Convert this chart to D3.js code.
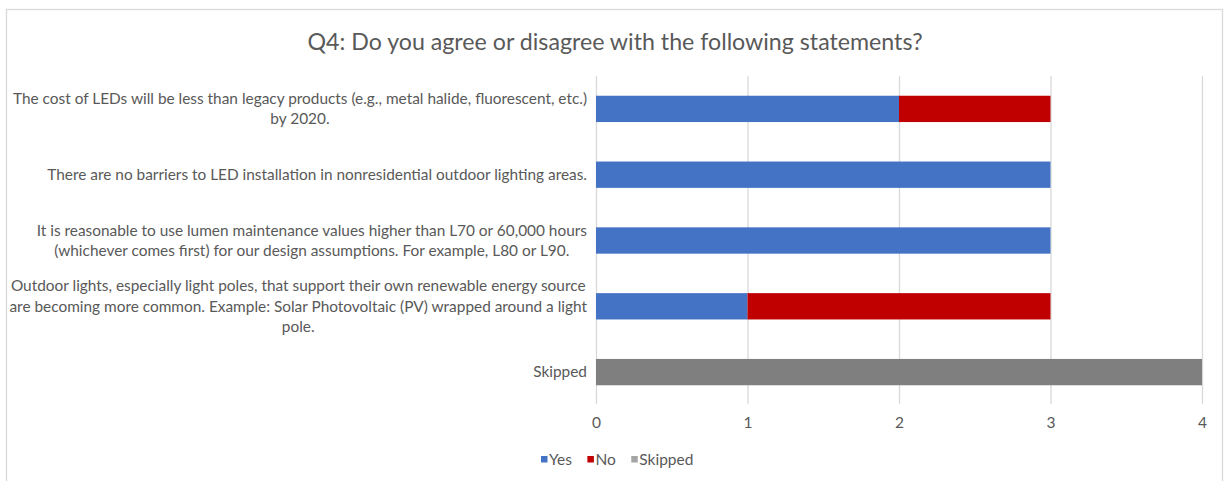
<!DOCTYPE html>
<html>
<head>
<meta charset="utf-8">
<script src="https://cdn.jsdelivr.net/npm/d3@7"></script>
<style>
  html, body { margin: 0; padding: 0; background: #fff; }
  svg { display: block; }
  text { font-family: Lato, "Open Sans", sans-serif; }
</style>
</head>
<body>
<svg id="chart" width="1224" height="481"></svg>
<script>
const title = "Q4: Do you agree or disagree with the following statements?";
const categories = [
  ["The cost of LEDs will be less than legacy products (e.g., metal halide, fluorescent, etc.)", "by 2020."],
  ["There are no barriers to LED installation in nonresidential outdoor lighting areas."],
  ["It is reasonable to use lumen maintenance values higher than L70 or 60,000 hours", "(whichever comes first) for our design assumptions. For example, L80 or L90."],
  ["Outdoor lights, especially light poles, that support their own renewable energy source", "are becoming more common. Example: Solar Photovoltaic (PV) wrapped around a light", "pole."],
  ["Skipped"]
];
const yesValues = [2, 3, 3, 1, 0];
const noValues = [1, 0, 0, 2, 0];
const skippedValues = [0, 0, 0, 0, 4];
const seriesNames = ["Yes", "No", "Skipped"];
const tickValues = [0, 1, 2, 3, 4];

const colors = { Yes: "#4472C4", No: "#C00000", Skipped: "#7F7F7F" };
const legendColors = { Yes: "#4472C4", No: "#C00000", Skipped: "#A5A5A5" };

const svg = d3.select("#chart");

// chart border
svg.append("rect").attr("x", 6.5).attr("y", 9.5).attr("width", 1216).attr("height", 480)
  .attr("fill", "#fff").attr("stroke", "#D9D9D9").attr("stroke-width", 1.3);

svg.append("text").attr("x", 615).attr("y", 50).attr("text-anchor", "middle")
  .attr("font-size", 23.2).attr("fill", "#595959").text(title);

const rows = categories.map((c, i) => ({
  idx: i, lines: c, Yes: yesValues[i], No: noValues[i], Skipped: skippedValues[i]
}));

const x = d3.scaleLinear().domain([0, 4]).range([596, 1202]);
const y = d3.scaleBand().domain(d3.range(categories.length)).range([76, 405])
  .paddingInner(0.6).paddingOuter(0.3);

// gridlines
const gx = svg.append("g").attr("transform", "translate(0,76)")
  .call(d3.axisBottom(x).tickValues(tickValues).tickSize(328).tickFormat(""));
gx.select(".domain").remove();
gx.selectAll("line").attr("stroke", "#D9D9D9").attr("stroke-width", 1.3);

// tick labels
const ax = svg.append("g").attr("transform", "translate(0,405)")
  .call(d3.axisBottom(x).tickValues(tickValues).tickSize(0).tickPadding(12).tickFormat(d3.format("d")));
ax.select(".domain").remove();
ax.selectAll("text").attr("font-size", 15.5).attr("fill", "#595959")
  .style("font-family", "Lato, sans-serif");

// stacked bars
const stack = d3.stack().keys(seriesNames)(rows);
svg.append("g").selectAll("g").data(stack).join("g")
  .attr("fill", d => colors[d.key])
  .selectAll("rect").data(d => d.filter(p => p[1] - p[0] > 0)).join("rect")
  .attr("x", d => x(d[0])).attr("width", d => x(d[1]) - x(d[0]))
  .attr("y", d => y(d.data.idx)).attr("height", y.bandwidth());

// category labels: block right aligned, lines centered inside block
const labelFont = 15.4;
const lineH = 20.3;
const labelRight = 587;
const lg = svg.append("g");
rows.forEach(r => {
  const g = lg.append("g");
  const texts = r.lines.map(l => g.append("text").attr("font-size", labelFont)
    .attr("fill", "#595959").text(l));
  const widths = texts.map(t => t.node().getComputedTextLength());
  const maxW = d3.max(widths);
  const cx = labelRight - maxW / 2;
  const cy = y(r.idx) + y.bandwidth() / 2;
  const n = r.lines.length;
  texts.forEach((t, i) => {
    t.attr("x", cx).attr("text-anchor", "middle")
      .attr("y", cy + (i - (n - 1) / 2) * lineH).attr("dy", "0.35em");
  });
});

// legend
const leg = svg.append("g");
let lx = 541;
seriesNames.forEach(name => {
  const g = leg.append("g");
  g.append("rect").attr("x", lx).attr("y", 456).attr("width", 6.5).attr("height", 6.5)
    .attr("fill", legendColors[name]);
  const t = g.append("text").attr("x", lx + 8).attr("y", 460).attr("dy", "0.35em")
    .attr("font-size", 15.5).attr("fill", "#595959").text(name);
  lx += 8 + t.node().getComputedTextLength() + 15.5;
});
</script>
</body>
</html>
